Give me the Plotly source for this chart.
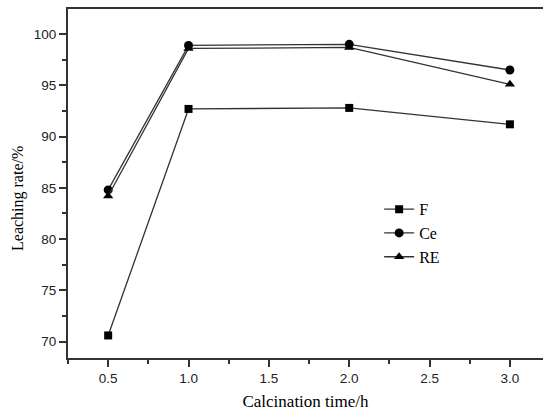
import plotly.graph_objects as go

time_h = [0.5, 1.0, 2.0, 3.0]
F = [70.6, 92.7, 92.8, 91.2]
Ce = [84.8, 98.9, 99.0, 96.5]
RE = [84.2, 98.6, 98.7, 95.1]

fig = go.Figure()
line_col = "#333333"
for name, vals, sym, sz in [("F", F, "square", 8), ("Ce", Ce, "circle", 9), ("RE", RE, "triangle-up", 9)]:
    fig.add_trace(go.Scatter(x=time_h, y=vals, name=name, mode="lines+markers",
                             line=dict(color=line_col, width=1.3),
                             marker=dict(symbol=sym, size=sz, color="black")))

fig.update_layout(
    width=543, height=415,
    margin=dict(l=68, r=0, t=9, b=57),
    plot_bgcolor="white", paper_bgcolor="white",
    showlegend=True,
    legend=dict(x=0.655, y=0.475, xanchor="left", yanchor="top",
                font=dict(family="Liberation Serif", size=16, color="black"),
                bgcolor="rgba(0,0,0,0)", tracegroupgap=0, itemwidth=30),
    xaxis=dict(range=[0.25, 3.206], tickvals=[0.5, 1.0, 1.5, 2.0, 2.5, 3.0],
               ticktext=["0.5", "1.0", "1.5", "2.0", "2.5", "3.0"],
               ticks="outside", ticklen=7, tickwidth=1.5, tickcolor="#333",
               minor=dict(dtick=0.25, tick0=0.25, ticks="outside", ticklen=4, tickwidth=1.5, tickcolor="#333"),
               showline=True, linecolor="#333", linewidth=2, mirror=True,
               showgrid=False, zeroline=False,
               tickfont=dict(family="Liberation Sans", size=13.5, color="#222"),
               title=dict(text="Calcination time/h", font=dict(family="Liberation Serif", size=17, color="black"), standoff=10)),
    yaxis=dict(range=[68.4, 102.45], tickvals=[70, 75, 80, 85, 90, 95, 100],
               ticks="outside", ticklen=7, tickwidth=1.5, tickcolor="#333",
               minor=dict(dtick=2.5, tick0=67.5, ticks="outside", ticklen=4, tickwidth=1.5, tickcolor="#333"),
               showline=True, linecolor="#333", linewidth=2, mirror=False,
               showgrid=False, zeroline=False,
               tickfont=dict(family="Liberation Sans", size=13.5, color="#222")),
    annotations=[dict(text="Leaching rate/%", textangle=-90, xref="paper", yref="paper",
                      x=-0.105, y=0.456, xanchor="center", yanchor="middle", showarrow=False,
                      font=dict(family="Liberation Serif", size=16, color="black"))],
)
fig.write_html("out.html")
